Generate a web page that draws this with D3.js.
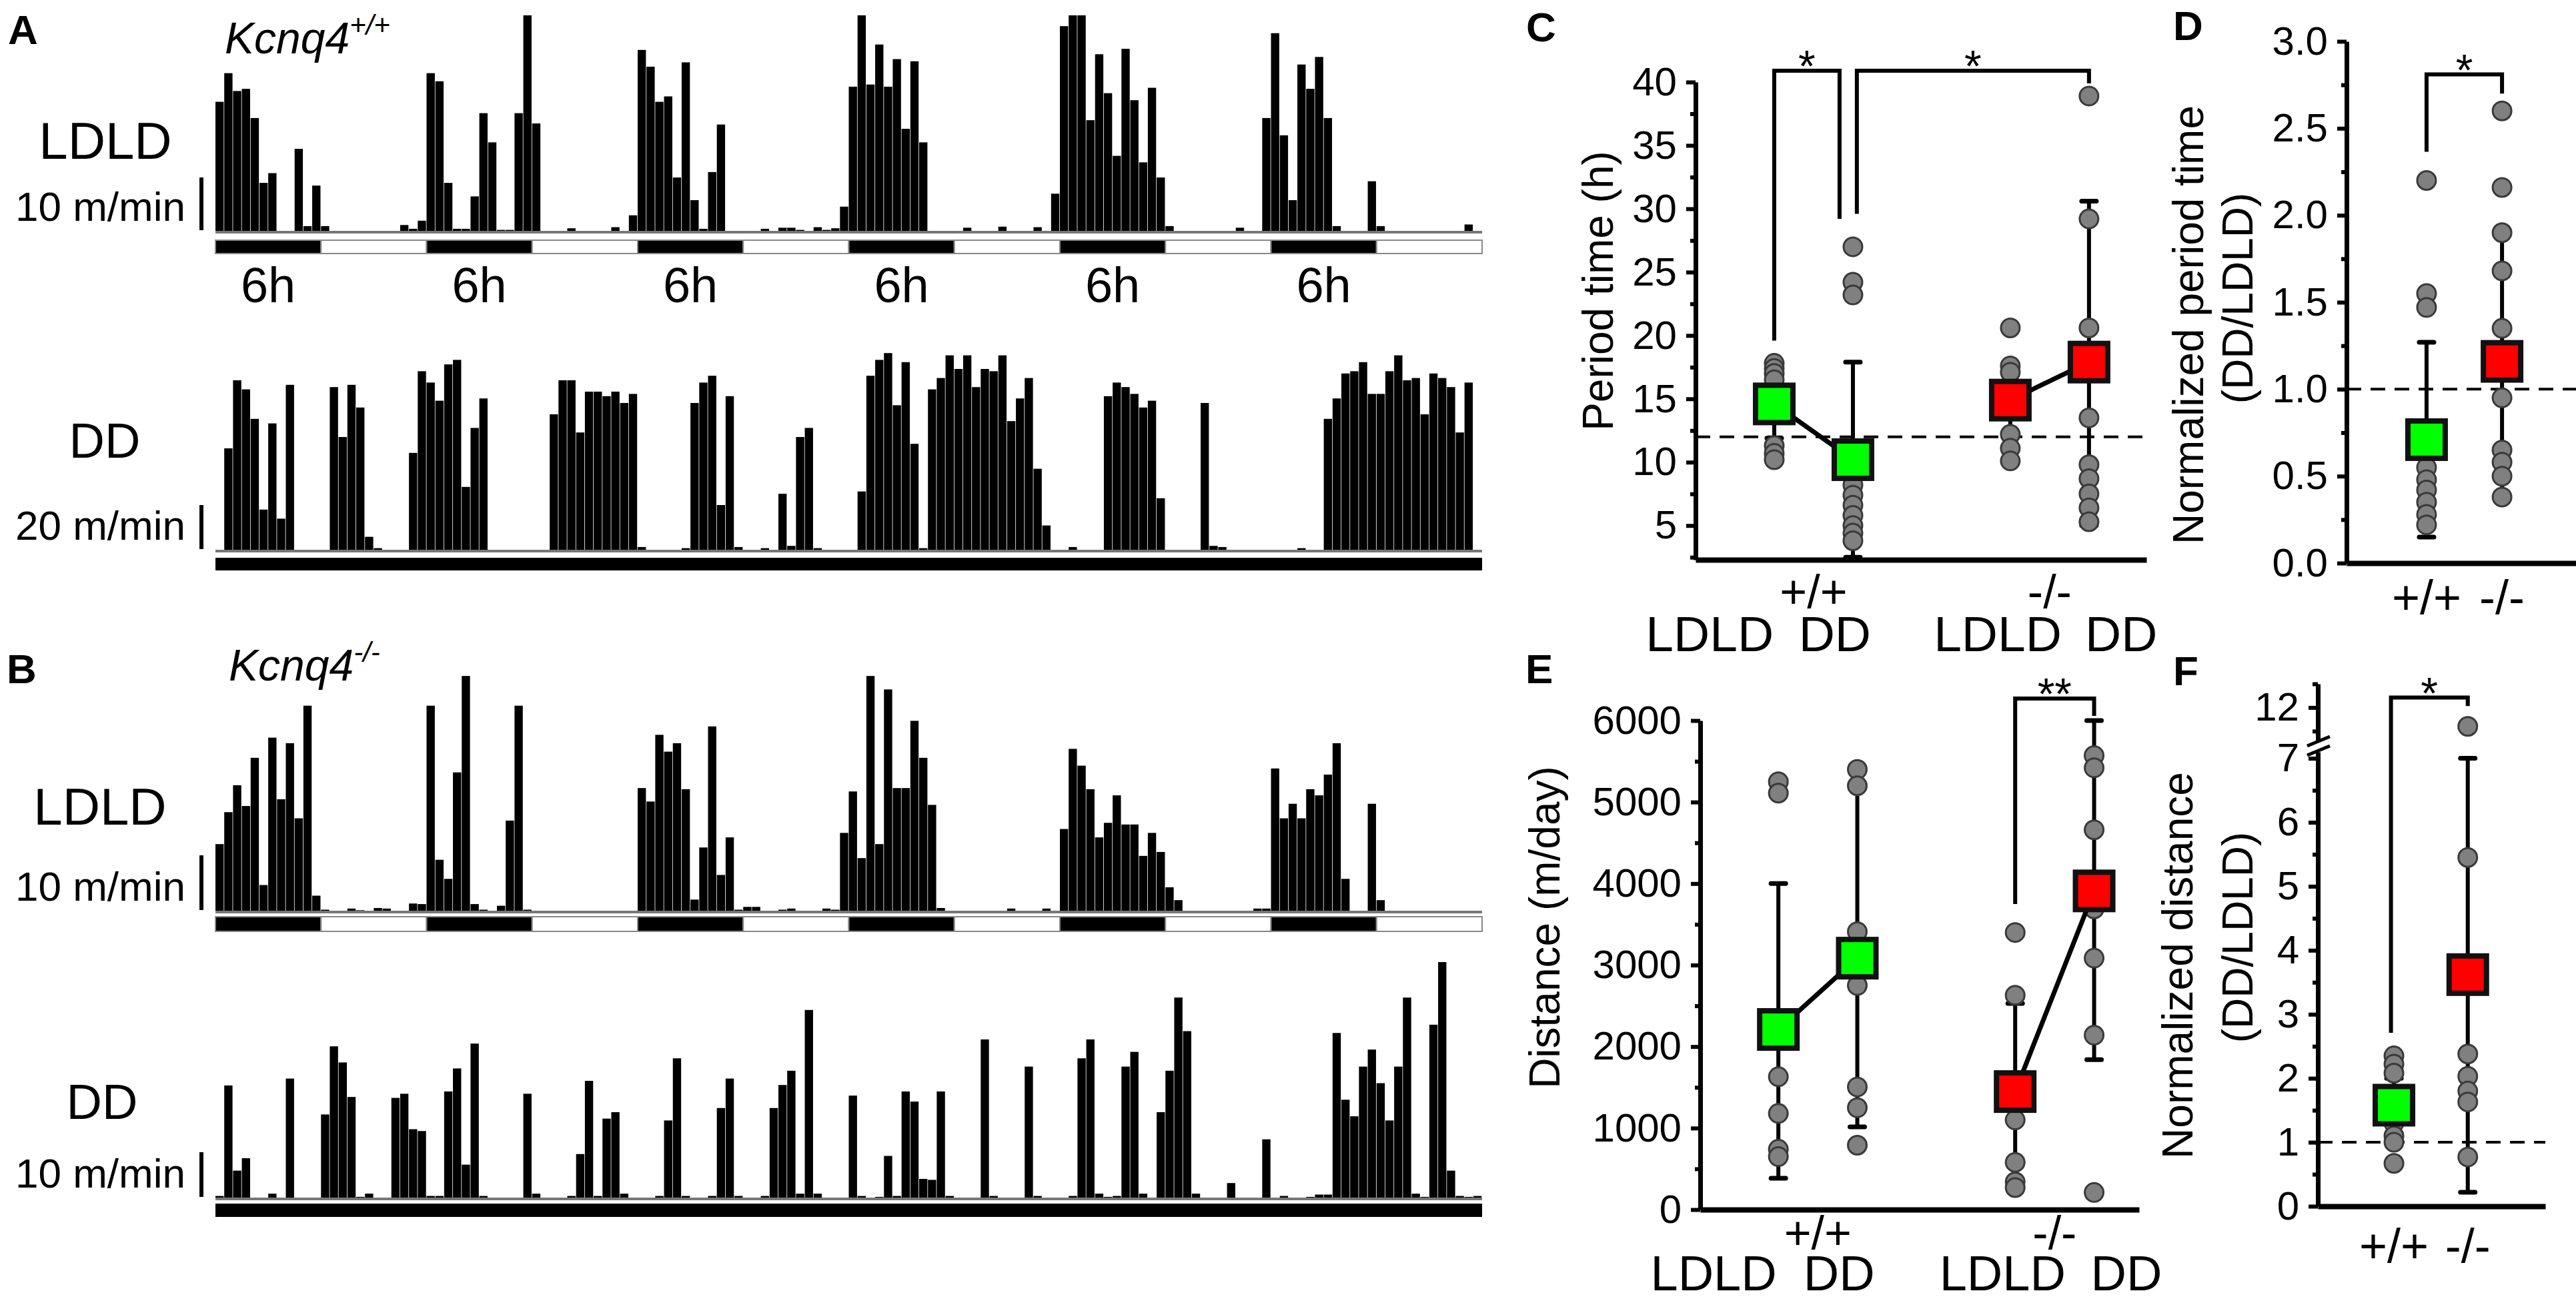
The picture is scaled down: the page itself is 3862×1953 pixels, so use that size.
<!DOCTYPE html>
<html>
<head>
<meta charset="utf-8">
<script src="https://cdn.jsdelivr.net/npm/d3@7"></script>
<style>
body{margin:0;background:#fff;}
</style>
</head>
<body>
<svg id="fig"></svg>
<script>
//activity traces, m/min per bin (144 bins = 72 h)
var ldPattern=["D","L","D","L","D","L","D","L","D","L","D","L"];
var segLabels=["6h","6h","6h","6h","6h","6h"];
var wtLDLD=[24,29.3,26,26.4,21,9,10.8,0,0,15.3,1,8.5,
 1,0,0,0,0,0,0,0,0,1.2,0.5,2,
 29.3,27.8,9,0.5,0.5,6.5,21.9,16.5,0.3,0.3,21.9,40,
 20,0,0,0,0.6,0,0,0,0,0.8,0,3,
 33.6,30.5,24,25,10,31.3,5.8,0.5,11,19.8,0,0,
 0,0,0.5,0,0.7,0.7,0.3,0,0.8,0.3,0.6,4.6,
 26.8,40,27.2,34.6,26.8,31.9,19,31.5,16.5,0,0,0,
 0,0.7,0,0,0,0.9,0,0,0,0.8,0,7,
 38,40,40,20.6,32.8,25.6,14,33.8,24.3,12.8,26.6,10,
 1,0,0,0,0,0,0,0,0.7,0,0,21,
 36.7,17.8,5.8,30.9,26.4,32.3,21,1,0,0,0,9.3,
 1,0,0,0,0,0,0,0,0,0,1.3,0];
var wtDD=[0,45,75,71,58,18,56,14,73,0,0,0,
 0,72,50,73,63,6,1,0,0,0,43,79,
 74,66,82,84,28,54,67,0,0,0,0,0,
 0,0,60,75,75,52,70,70,68,70,65,69,
 1.5,0,0,0,0,1,65,74,77,20,68,1.5,
 0,0,1,0,25,2,50,54,1,0,0,0,
 0,26,77,84,87,64,83,47,1,71,76,86,
 80,86,72,80,79,86,57,67,76,36,11,0,
 0,1.5,0,0,0,68,74,72,69,63,66,23,
 0,0,0,0,65,2,1.5,0,0,0,0,0,
 0,0,0,1,0,0,58,67,78,79,83,69,
 69,79,86,75,76,60,78,76,72,52,74,0];
var koLDLD=[12,17.7,22.5,18.8,27.4,4.7,31,20,30,16.6,36.7,2.8,
 0.3,0,0,0.5,0.2,0,0.6,0.5,0,0,1.4,1.3,
 36.7,9.2,5.8,24.8,42,1.3,0.3,0,1,16.2,36.7,0.3,
 0,0,0,0,0,0,0,0,0,0,0,0,
 22,19.6,31.5,28.5,30,21.8,2.1,11.4,33,6.5,13.2,0.3,
 0.8,0.8,0,0,0.3,0.5,0,0,0,0.5,0.3,14,
 21.4,9.5,42,12,39.6,22,22,34,27.4,19,0.6,0,
 0,0,0,0,0,0,0.5,0,0,0,0.5,0,
 14.7,29,26,21.8,13.2,15.8,20.7,15.5,15.5,9.9,14,10.6,
 4.3,2,0,0,0,0,0,0,0,0,0.5,0.5,
 25.5,16.6,19.2,16.6,21.8,20.7,24.4,30,5.8,0,0,19.2,
 2,0,0,0,0,0,0,0,0,0,0,0];
var koDD=[0.5,24.5,6,8.7,0,0,1,0,26,0,0,0,
 18.2,33,29.5,22,0.3,1,0,0,21.8,22.7,15,14.6,
 0.5,0.5,23.2,28.2,7.3,33.6,0.5,0,0,0,0,22.7,
 1,0,0,0,0.5,9.6,25.5,0.5,17.3,18.7,1,0,
 0,0,0.5,16.9,30.4,0.5,0,0,0.5,19.6,26,0.5,
 0,0,0.5,19.6,24.6,27.7,1,40.9,1,0,0,0,
 22.3,0.5,0,0.3,9.2,0.5,23.2,21,4.2,4,23.2,0.5,
 0,0,0,34.5,0.5,0,0,0,28.6,0.5,0,0,
 0,0.5,30.4,34.5,1,0.3,0.5,28.6,31.8,1,0,18.7,
 27.7,43.6,36.3,1,0,0,0,3.3,0,0,0,12.8,
 0,0.5,0,0,0.3,0.8,0.8,35.9,21.4,17.8,28.6,32.3,
 25,16.9,28.6,43.6,1,0.3,37.7,51.3,6,0.5,0.3,0.5];

//group summary panels
var groupCats=[0,1,3,4];
var groupColors=["#00ff00","#00ff00","#ff0000","#ff0000"];
var catLabels=["LDLD","DD","LDLD","DD"];
var catLabelPos=[-0.82,0.77,2.84,4.41];
var genoLabels=["+/+","-/-"];

var periodMean=[14.6,10.2,14.9,17.9];
var periodLow=[11.9,2.5,12.2,5.0];
var periodHigh=[17.6,17.9,17.6,30.6];
var periodPts=[[17.8,17.4,17.0,16.5,11.3,10.7,10.2],
 [27.0,24.2,23.2,8.2,7.4,6.6,5.8,5.0,4.4,3.8],
 [20.6,17.6,17.1,12.2,11.1,10.1],
 [38.9,29.2,20.6,13.5,9.8,8.7,7.5,6.4,5.3]];

var normPeriodMean=[0.71,1.16];
var normPeriodLow=[0.15,0.38];
var normPeriodHigh=[1.27,1.89];
var normPeriodPts=[[2.2,1.55,1.47,0.55,0.48,0.42,0.35,0.28,0.22],
 [2.6,2.16,1.9,1.68,1.35,0.95,0.65,0.58,0.5,0.38]];

var distMean=[2210,3085,1448,3910];
var distLow=[385,1015,320,1840];
var distHigh=[4000,5190,2530,6000];
var distPts=[[5250,5110,1630,1180,740,650],
 [5400,5200,3410,2750,1505,1250,790],
 [3400,2630,1100,580,340,270],
 [5570,5420,4660,3690,3085,2140,210]];

var normDistMean=[1.58,3.62];
var normDistLow=[1.0,0.22];
var normDistHigh=[2.0,7.0];
var normDistPts=[[2.35,2.22,2.08,1.3,1.1,1.0,0.67],
 [11.6,5.45,2.38,2.03,1.8,1.63,0.77]];

var W=3862,H=1953;
var FONT='"Liberation Sans", Arial, sans-serif';
var svg=d3.select("#fig").attr("width",W).attr("height",H);
svg.append("rect").attr("width",W).attr("height",H).attr("fill","#fff");

function txt(x,y,s,size,opt){
    opt=opt||{};
    var t=svg.append("text").attr("x",x).attr("y",y).attr("font-size",size)
        .attr("font-family",FONT).attr("fill","#000").text(s);
    if(opt.anchor){t.attr("text-anchor",opt.anchor);}
    if(opt.bold){t.attr("font-weight","bold");}
    if(opt.rot){t.attr("transform","rotate(-90,"+x+","+y+")");}
    return t;
}

// ---------- traces (A, B) ----------
var xt=d3.scaleLinear().domain([0,144]).range([323,2222]);

function trace(vals,base,top,maxV,barTop,barBot,ld,scaleV){
    var ys=d3.scaleLinear().domain([0,maxV]).range([base,top]);
    svg.append("g").selectAll("rect").data(vals).join("rect")
        .attr("x",function(d,i){return xt(i);})
        .attr("width",xt(1)-xt(0)-0.8)
        .attr("y",function(d){return ys(d);})
        .attr("height",function(d){return base-ys(d);})
        .attr("fill","#000");
    svg.append("line").attr("x1",xt(0)).attr("x2",xt(144)).attr("y1",base+1).attr("y2",base+1)
        .attr("stroke","#777").attr("stroke-width",4);
    if(ld){
        svg.append("g").selectAll("rect").data(ld).join("rect")
            .attr("x",function(d,i){return xt(i*12);})
            .attr("width",xt(12)-xt(0))
            .attr("y",barTop).attr("height",barBot-barTop)
            .attr("fill",function(d){return d=="D"?"#000":"#fff";})
            .attr("stroke","#888").attr("stroke-width",2);
    }else{
        svg.append("rect").attr("x",xt(0)).attr("width",xt(144)-xt(0))
            .attr("y",barTop).attr("height",barBot-barTop).attr("fill","#000");
    }
    // scale bar
    svg.append("line").attr("x1",302).attr("x2",302).attr("y1",ys(0)-2).attr("y2",ys(scaleV))
        .attr("stroke","#000").attr("stroke-width",6);
    txt(278,base-16,scaleV+" m/min",62,{anchor:"end"});
    return ys;
}

// A
txt(12,66,"A",62,{bold:true});
var k1=txt(337,80,"Kcnq4",66).attr("font-style","italic");
k1.append("tspan").attr("dy",-28).attr("font-size",42).text("+/+");
trace(wtLDLD,347,23,40,360,380,ldPattern,10);
txt(158,238,"LDLD",78,{anchor:"middle"});
svg.append("g").selectAll("text").data(segLabels).join("text")
    .attr("x",function(d,i){return xt(i*24+6);}).attr("y",453)
    .attr("text-anchor","middle").attr("font-size",74).attr("font-family",FONT).text(function(d){return d;});
trace(wtDD,825,825-87*3.4,87,836,855,null,20);
txt(157,686,"DD",74,{anchor:"middle"});

// B
txt(10,1024,"B",62,{bold:true});
var k2=txt(343,1020,"Kcnq4",66).attr("font-style","italic");
k2.append("tspan").attr("dy",-28).attr("font-size",42).text("-/-");
trace(koLDLD,1366,1366-42*8.4,42,1374,1396,ldPattern,10);
txt(150,1236,"LDLD",78,{anchor:"middle"});
trace(koDD,1796,1796-51.3*6.9,51.3,1804,1824,null,10);
txt(153,1677,"DD",74,{anchor:"middle"});

// ---------- summary panels ----------
function yAxis(x,scale,major,minor,fmt){
    var g=svg.append("g").attr("transform","translate("+x+",0)")
        .call(d3.axisLeft(scale).tickValues(major).tickSize(14).tickSizeOuter(0).tickPadding(14).tickFormat(fmt));
    g.select(".domain").attr("stroke-width",7);
    g.selectAll(".tick line").attr("stroke-width",6);
    g.selectAll("text").attr("font-size",60).attr("font-family",FONT);
    var m=svg.append("g").attr("transform","translate("+x+",0)")
        .call(d3.axisLeft(scale).tickValues(minor).tickSize(8).tickSizeOuter(0).tickFormat(""));
    m.select(".domain").remove();
    m.selectAll(".tick line").attr("stroke-width",6);
}
function xAxis(y,scale){
    var g=svg.append("g").attr("transform","translate(0,"+y+")")
        .call(d3.axisBottom(scale).tickValues([]).tickSizeOuter(0));
    g.select(".domain").attr("stroke-width",8);
}
function dashed(xs,yv){
    var r=xs.range();
    svg.append("line").attr("x1",r[0]).attr("x2",r[1]).attr("y1",yv).attr("y2",yv)
        .attr("stroke","#000").attr("stroke-width",4).attr("stroke-dasharray","22,14");
}
function groups(xs,ys,cats,means,lows,highs,pts,colors,pairs){
    var g=svg.append("g");
    cats.forEach(function(c,i){
        var x=xs(c);
        g.append("line").attr("x1",x).attr("x2",x).attr("y1",ys(lows[i])).attr("y2",ys(highs[i]))
            .attr("stroke","#000").attr("stroke-width",6);
        [lows[i],highs[i]].forEach(function(v){
            g.append("line").attr("x1",x-11).attr("x2",x+11).attr("y1",ys(v)).attr("y2",ys(v))
                .attr("stroke","#000").attr("stroke-width",7).attr("stroke-linecap","round");
        });
        g.selectAll(null).data(pts[i]).join("circle")
            .attr("cx",x).attr("cy",function(d){return ys(d);}).attr("r",14)
            .attr("fill","#808080").attr("stroke","#3a3a3a").attr("stroke-width",3);
    });
    pairs.forEach(function(p){
        g.append("line").attr("x1",xs(cats[p[0]])).attr("x2",xs(cats[p[1]]))
            .attr("y1",ys(means[p[0]])).attr("y2",ys(means[p[1]]))
            .attr("stroke","#000").attr("stroke-width",7);
    });
    cats.forEach(function(c,i){
        g.append("rect").attr("x",xs(c)-28).attr("y",ys(means[i])-28).attr("width",56).attr("height",56)
            .attr("fill",colors[i]).attr("stroke","#111").attr("stroke-width",8);
    });
}
function bracket(xs,ys,b,star){
    var x1=xs(b[0]),x2=xs(b[1]),yt=ys(b[2]);
    svg.append("path").attr("d","M"+x1+","+ys(b[3])+"V"+yt+"H"+x2+"V"+ys(b[4]))
        .attr("fill","none").attr("stroke","#000").attr("stroke-width",6);
    txt((x1+x2)/2,yt+16,star,66,{anchor:"middle"});
}

// C
txt(2288,62,"C",62,{bold:true});
var xC=d3.scaleLinear().domain([-1,4.73]).range([2542,3218]);
var yC=d3.scaleLinear().domain([2.3,40]).range([839,123]);
dashed(xC,yC(12));
yAxis(2542,yC,d3.range(5,41,5),d3.range(2.5,40,5),d3.format("d"));
xAxis(839,xC);
groups(xC,yC,groupCats,periodMean,periodLow,periodHigh,periodPts,groupColors,[[0,1],[2,3]]);
bracket(xC,yC,[0,0.83,40.9,19.6,29.2],"*");
bracket(xC,yC,[1.05,4,40.9,29.6,39.9],"*");
txt(2418,436,"Period time (h)",64,{anchor:"middle",rot:true});
txt(xC(0.5),911,genoLabels[0],70,{anchor:"middle"});
txt(xC(3.5),911,genoLabels[1],70,{anchor:"middle"});
catLabels.forEach(function(s,i){txt(xC(catLabelPos[i]),976,s,75,{anchor:"middle"});});

// D
txt(3258,60,"D",62,{bold:true});
var xD=d3.scaleLinear().domain([-1.06,1.98]).range([3518,3862]);
var yD=d3.scaleLinear().domain([0,3]).range([844,62]);
dashed(xD,yD(1));
yAxis(3518,yD,d3.range(0,3.01,0.5),d3.range(0.25,3,0.5),d3.format(".1f"));
xAxis(844,xD);
groups(xD,yD,[0,1],normPeriodMean,normPeriodLow,normPeriodHigh,normPeriodPts,["#00ff00","#ff0000"],[]);
bracket(xD,yD,[0,1,2.81,2.365,2.70],"*");
txt(3303,487,"Normalized period time",64,{anchor:"middle",rot:true});
txt(3377,447,"(DD/LDLD)",64,{anchor:"middle",rot:true});
txt(xD(0),920,genoLabels[0],72,{anchor:"middle"});
txt(xD(1),920,genoLabels[1],72,{anchor:"middle"});

// E
txt(2287,1024,"E",62,{bold:true});
var xE=d3.scaleLinear().domain([-0.99,4.57]).range([2549,3207]);
var yE=d3.scaleLinear().domain([0,6000]).range([1813,1080]);
yAxis(2549,yE,d3.range(0,6001,1000),d3.range(500,6000,1000),d3.format("d"));
xAxis(1813,xE);
groups(xE,yE,groupCats,distMean,distLow,distHigh,distPts,groupColors,[[0,1],[2,3]]);
bracket(xE,yE,[3,4,6270,3750,6057],"**");
txt(2338,1390,"Distance (m/day)",64,{anchor:"middle",rot:true});
txt(xE(0.5),1872,genoLabels[0],70,{anchor:"middle"});
txt(xE(3.5),1872,genoLabels[1],70,{anchor:"middle"});
catLabels.forEach(function(s,i){txt(xE(catLabelPos[i]),1934,s,74,{anchor:"middle"});});

// F (broken axis)
txt(3258,1027,"F",62,{bold:true});
var xF=d3.scaleLinear().domain([-1.03,2.05]).range([3475,3816]);
var yFlo=d3.scaleLinear().domain([0,7.1]).range([1808,1127]);
var yFhi=d3.scaleLinear().domain([11.3,12.5]).range([1110,1025]);
var yF=function(v){return v<=7.1?yFlo(v):yFhi(v);};
dashed(xF,yF(1));
yAxis(3475,yFlo,d3.range(0,8,1),d3.range(0.5,7,1),d3.format("d"));
yAxis(3475,yFhi,[12],[11.5,12.5],d3.format("d"));
svg.append("rect").attr("x",3462).attr("y",1111).attr("width",30).attr("height",15).attr("fill","#fff");
[1111,1125].forEach(function(y){
    svg.append("line").attr("x1",3459).attr("x2",3493).attr("y1",y+7).attr("y2",y-7)
        .attr("stroke","#000").attr("stroke-width",5);
});
xAxis(1808,xF);
groups(xF,yF,[0,1],normDistMean,normDistLow,normDistHigh,normDistPts,["#00ff00","#ff0000"],[]);
bracket(xF,yF,[-0.04,1,12.21,2.71,12.03],"*");
txt(3287,1447,"Normalized distance",64,{anchor:"middle",rot:true});
txt(3377,1405,"(DD/LDLD)",64,{anchor:"middle",rot:true});
txt(xF(0),1892,genoLabels[0],72,{anchor:"middle"});
txt(xF(1),1892,genoLabels[1],72,{anchor:"middle"});
</script>
</body>
</html>
